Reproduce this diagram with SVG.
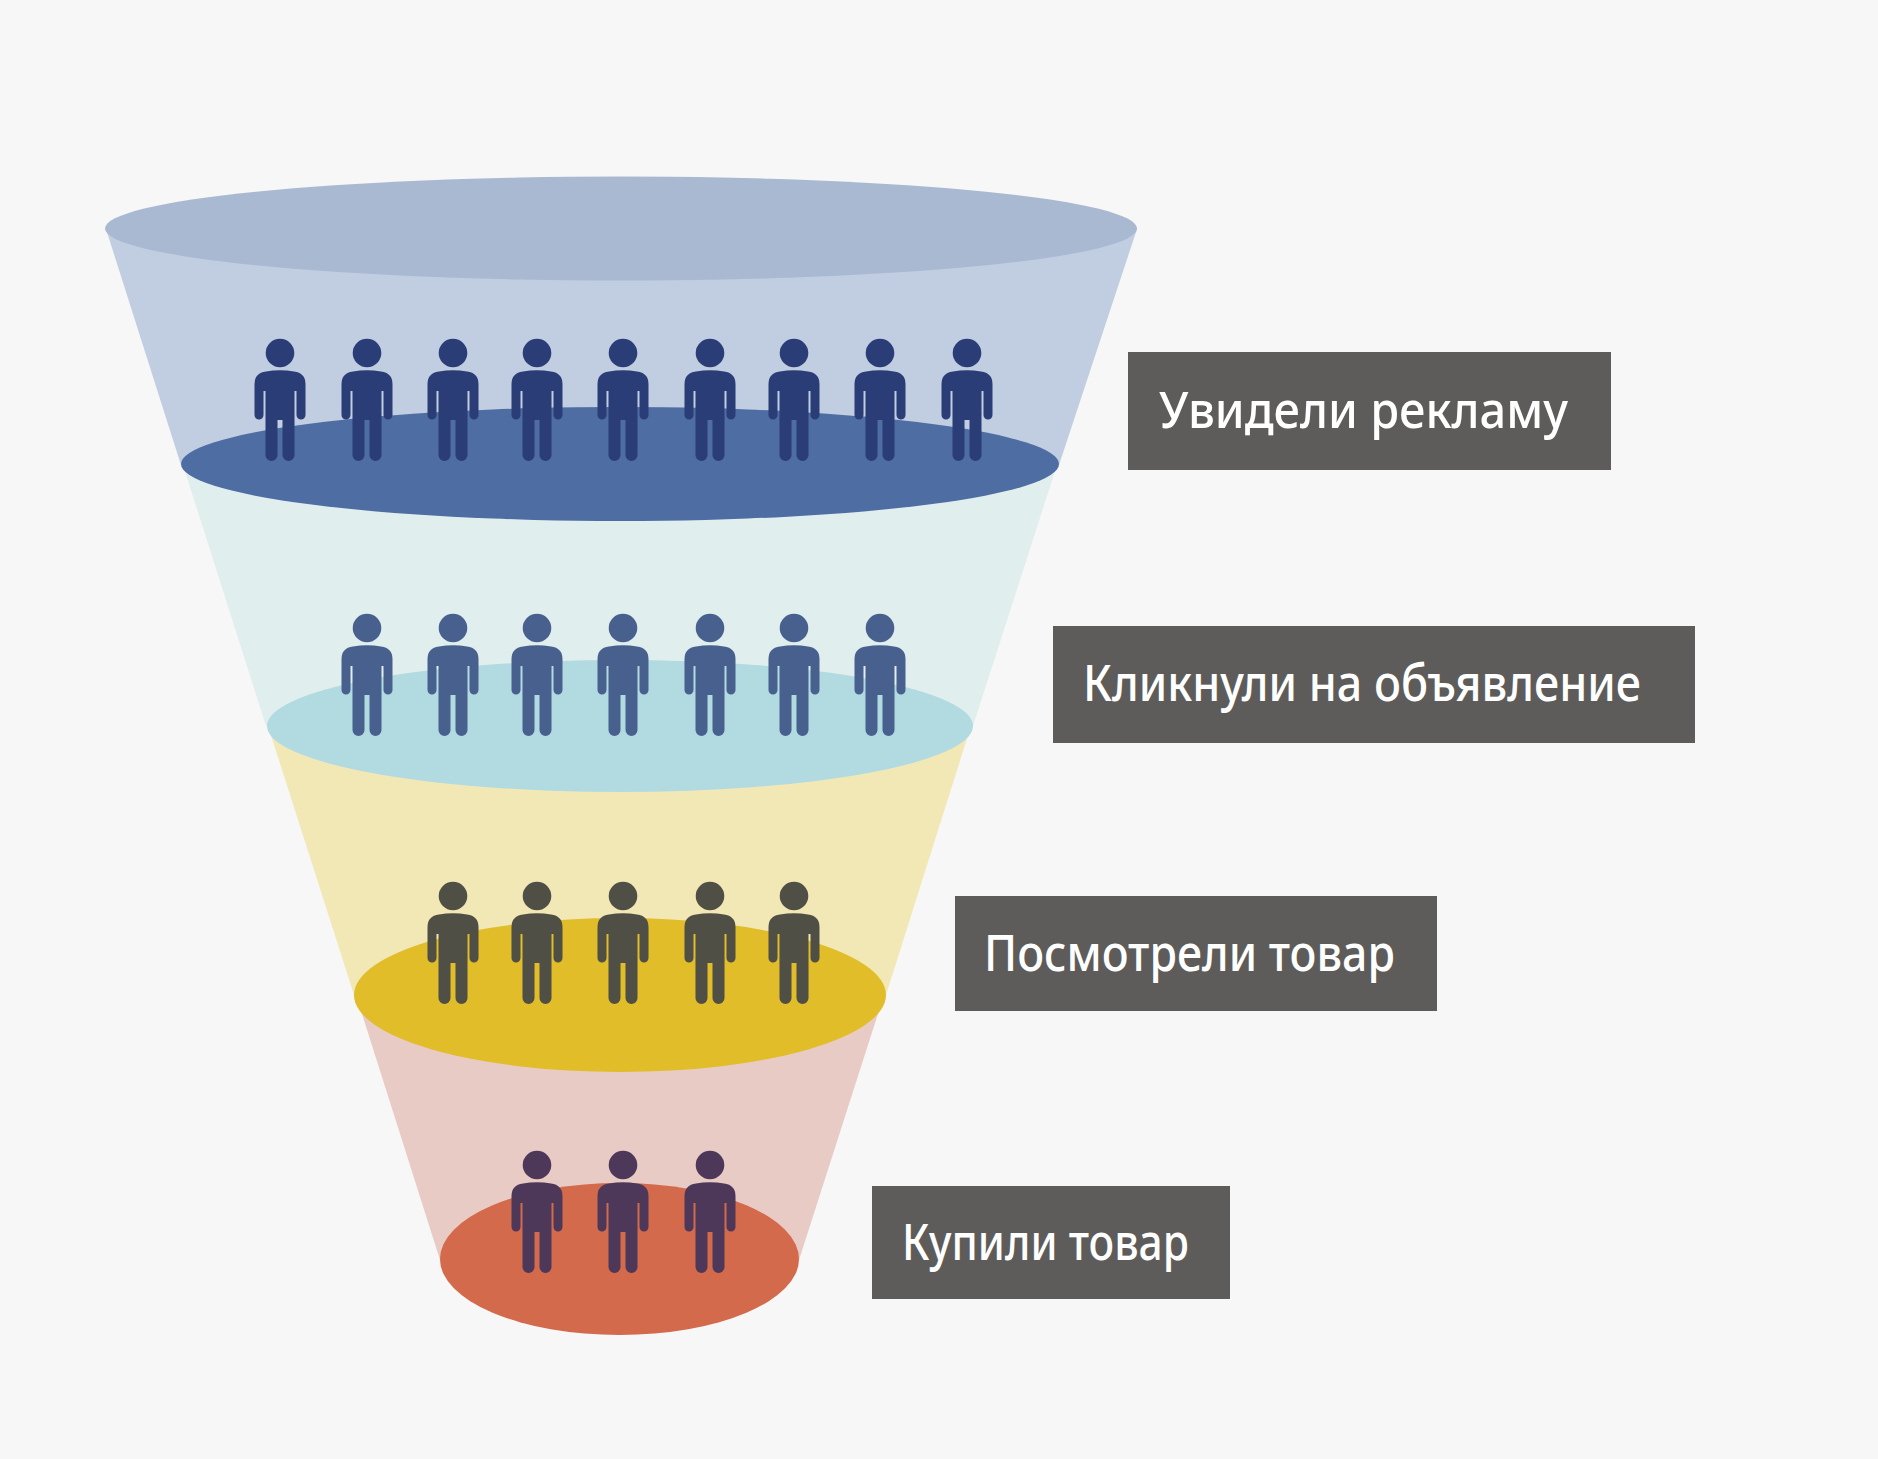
<svg xmlns="http://www.w3.org/2000/svg" width="1878" height="1459" viewBox="0 0 1878 1459">
<style>
.lbl{fill:#5d5c5a}
.txt{fill:#fff;font-family:"Noto Sans","Open Sans","Liberation Sans",sans-serif;font-size:51px;font-weight:500}
.p1{fill:#2a3d76}.p2{fill:#48608e}.p3{fill:#4f4f45}.p4{fill:#4d3859}
</style>
<defs>
<g id="person">
<circle cx="0" cy="0" r="14.300"/>
<path d="M-25.500 31Q-25.500 20-14 18.500Q0 16 14 18.500Q25.500 20 25.500 31V62A4.500 4.500 0 0 1 16.500 62V38H14.500V102A6 6 0 0 1 2.500 102V67H-2.500V102A6 6 0 0 1-14.500 102V38H-16.500V62A4.500 4.500 0 0 1-25.500 62Z"/>
</g>
</defs>
<rect width="1878" height="1459" fill="#f7f7f7"/>
<g id="stage-1">
<path d="M106 229L181 465H1059L1137 229Z" fill="#c1cde1"/>
<ellipse cx="621" cy="228.500" rx="516" ry="52" fill="#a9b9d1"/>
</g>
<g id="stage-2">
<path d="M183 465L266 726H973L1057 465Z" fill="#e1eeee"/>
<ellipse cx="620" cy="464" rx="439" ry="57" fill="#4e6da3"/>
</g>
<g id="stage-3">
<path d="M268 726L354 995H886L971 726Z" fill="#f2e8b6"/>
<ellipse cx="620" cy="726" rx="353" ry="66" fill="#b2dbe1"/>
</g>
<g id="stage-4">
<path d="M356 995L440 1260H799L884 995Z" fill="#e9cbc5"/>
<ellipse cx="620" cy="995" rx="266" ry="77" fill="#e1bd2a"/>
<ellipse cx="619.500" cy="1259" rx="179.500" ry="76" fill="#d36a4b"/>
</g>
<g id="people-row-1" class="p1">
<use href="#person" x="280" y="353"/><use href="#person" x="367" y="353"/><use href="#person" x="453" y="353"/><use href="#person" x="537" y="353"/><use href="#person" x="623" y="353"/><use href="#person" x="710" y="353"/><use href="#person" x="794" y="353"/><use href="#person" x="880" y="353"/><use href="#person" x="967" y="353"/>
</g>
<g id="people-row-2" class="p2">
<use href="#person" x="367" y="628"/><use href="#person" x="453" y="628"/><use href="#person" x="537" y="628"/><use href="#person" x="623" y="628"/><use href="#person" x="710" y="628"/><use href="#person" x="794" y="628"/><use href="#person" x="880" y="628"/>
</g>
<g id="people-row-3" class="p3">
<use href="#person" x="453" y="896"/><use href="#person" x="537" y="896"/><use href="#person" x="623" y="896"/><use href="#person" x="710" y="896"/><use href="#person" x="794" y="896"/>
</g>
<g id="people-row-4" class="p4">
<use href="#person" x="537" y="1165"/><use href="#person" x="623" y="1165"/><use href="#person" x="710" y="1165"/>
</g>
<g id="label-1"><rect class="lbl" x="1128" y="352" width="483" height="118"/><text class="txt" x="1159" y="428" textLength="409" lengthAdjust="spacingAndGlyphs">Увидели рекламу</text></g>
<g id="label-2"><rect class="lbl" x="1053" y="626" width="642" height="117"/><text class="txt" x="1083" y="701" textLength="558" lengthAdjust="spacingAndGlyphs">Кликнули на объявление</text></g>
<g id="label-3"><rect class="lbl" x="955" y="896" width="482" height="115"/><text class="txt" x="984" y="971" textLength="411" lengthAdjust="spacingAndGlyphs">Посмотрели товар</text></g>
<g id="label-4"><rect class="lbl" x="872" y="1186" width="358" height="113"/><text class="txt" x="902" y="1260" textLength="287" lengthAdjust="spacingAndGlyphs">Купили товар</text></g>
</svg>
